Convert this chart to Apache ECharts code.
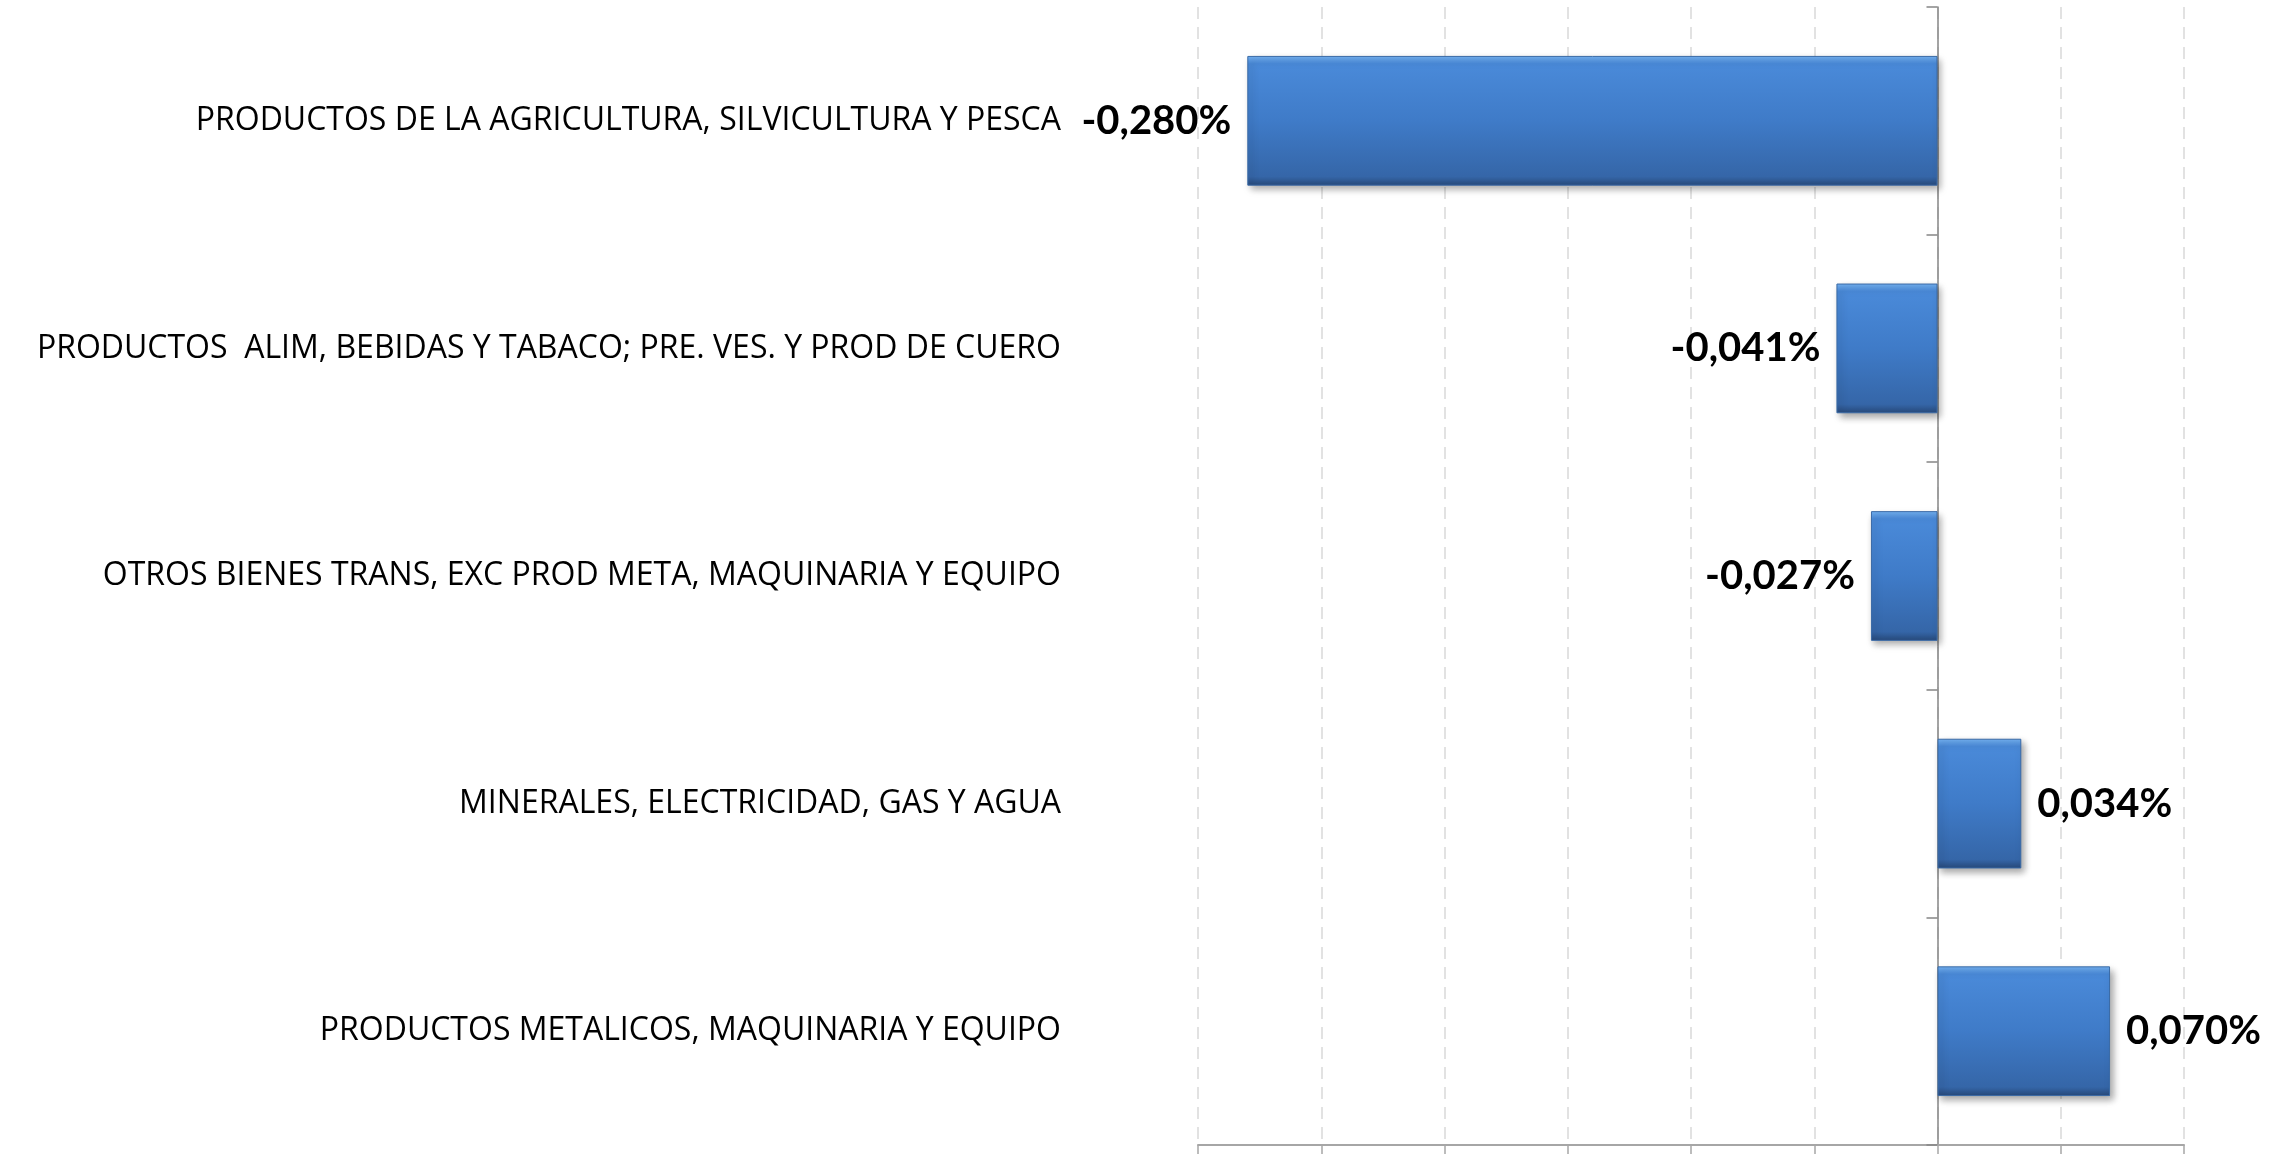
<!DOCTYPE html>
<html>
<head>
<meta charset="utf-8">
<script src="https://cdn.jsdelivr.net/npm/echarts@6/dist/echarts.min.js"></script>
<style>
  html, body { margin: 0; padding: 0; background: #fff; }
  #chart { width: 2272px; height: 1154px; }
</style>
</head>
<body>
<div id="chart"></div>
<script>
const categories = [
    "PRODUCTOS DE LA AGRICULTURA, SILVICULTURA Y PESCA",
    "PRODUCTOS  ALIM, BEBIDAS Y TABACO; PRE. VES. Y PROD DE CUERO",
    "OTROS BIENES TRANS, EXC PROD META, MAQUINARIA Y EQUIPO",
    "MINERALES, ELECTRICIDAD, GAS Y AGUA",
    "PRODUCTOS METALICOS, MAQUINARIA Y EQUIPO"
];
const values = [-0.280, -0.041, -0.027, 0.034, 0.070];

const chart = echarts.init(document.getElementById("chart"));

// bevel-ish blue fill like the office chart
const barFill = new echarts.graphic.LinearGradient(0, 0, 0, 1, [
    { offset: 0, color: "#74b2f2" },
    { offset: 0.06, color: "#4a8ad9" },
    { offset: 0.5, color: "#3f7bc8" },
    { offset: 0.93, color: "#3566a8" },
    { offset: 1, color: "#27497a" }
]);

chart.setOption({
    animation: false,
    grid: { left: 1198, right: 88, top: 7, bottom: 9, containLabel: false },
    xAxis: {
        type: "value",
        min: -0.3,
        max: 0.1,
        interval: 0.05,
        axisLabel: { show: false },
        axisLine: { show: true, lineStyle: { color: "#a6a6a6", width: 2 } },
        axisTick: { show: true, length: 12, lineStyle: { color: "#a6a6a6", width: 1.5 } },
        splitLine: { show: true, lineStyle: { color: "#d9d9d9", type: [12, 8], width: 1.5 } }
    },
    yAxis: [
        {
            type: "category",
            data: categories,
            inverse: true,
            position: "left",
            axisLine: { show: false, onZero: false },
            axisTick: { show: false },
            axisLabel: {
                margin: 137,
                fontFamily: "Open Sans",
                fontSize: 32,
                color: "#000"
            }
        },
        {
            // the visible category line sits on zero
            type: "category",
            data: categories,
            inverse: true,
            position: "left",
            axisLine: { show: true, onZero: true, lineStyle: { color: "#868686", width: 1.5 } },
            axisTick: { show: true, length: 11, lineStyle: { color: "#868686", width: 1.5 } },
            axisLabel: { show: false }
        }
    ],
    series: [{
        type: "bar",
        yAxisIndex: 0,
        barWidth: "57%",
        data: values.map(v => ({
            value: v,
            label: { position: v < 0 ? "left" : "right" }
        })),
        itemStyle: {
            color: barFill,
            borderColor: "#3a6aa6",
            borderWidth: 1,
            shadowColor: "rgba(0,0,0,0.35)",
            shadowBlur: 7,
            shadowOffsetX: 3,
            shadowOffsetY: 4
        },
        label: {
            show: true,
            distance: 16,
            fontFamily: "Lato",
            fontWeight: "bold",
            fontSize: 40,
            color: "#000",
            formatter: p => p.value.toFixed(3).replace(".", ",") + "%"
        }
    }]
});
</script>
</body>
</html>
